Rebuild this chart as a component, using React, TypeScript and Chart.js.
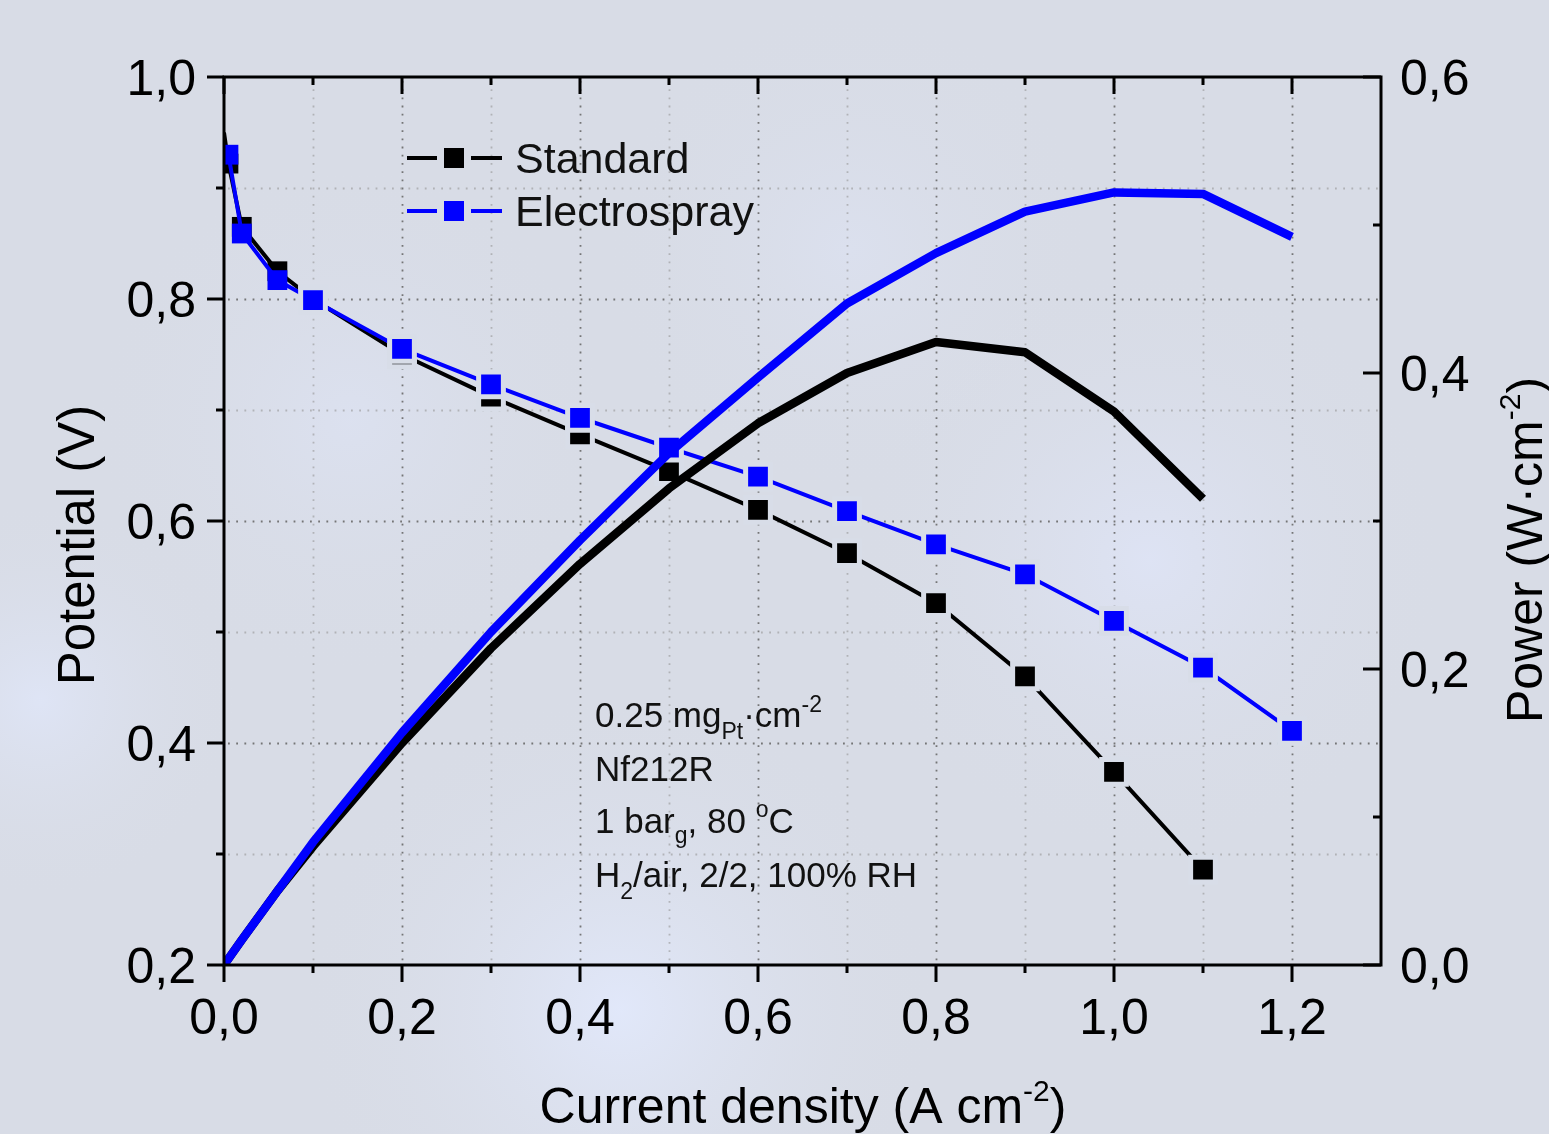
import React, { useEffect, useRef } from 'react';
import { Chart, registerables } from 'chart.js';

Chart.register(...registerables);

// ---------- data ----------
const currentStdV = [0, 0.005, 0.02, 0.06, 0.1, 0.2, 0.3, 0.4, 0.5, 0.6, 0.7, 0.8, 0.9, 1.0, 1.1];
const potentialStd = [0.95, 0.922, 0.865, 0.825, 0.8, 0.75, 0.712, 0.678, 0.645, 0.61, 0.571, 0.526, 0.46, 0.374, 0.286];

const currentEsV = [0.005, 0.02, 0.06, 0.1, 0.2, 0.3, 0.4, 0.5, 0.6, 0.7, 0.8, 0.9, 1.0, 1.1, 1.2];
const potentialEs = [0.93, 0.859, 0.817, 0.799, 0.755, 0.723, 0.693, 0.666, 0.64, 0.609, 0.579, 0.552, 0.51, 0.468, 0.411];

const currentStdP = [0, 0.02, 0.06, 0.1, 0.2, 0.3, 0.4, 0.5, 0.6, 0.7, 0.8, 0.9, 1.0, 1.1];
const powerStd = [0, 0.017, 0.05, 0.08, 0.15, 0.214, 0.271, 0.322, 0.366, 0.4, 0.421, 0.414, 0.374, 0.315];

const currentEsP = [0, 0.02, 0.06, 0.1, 0.2, 0.3, 0.4, 0.5, 0.6, 0.7, 0.8, 0.9, 1.0, 1.1, 1.2];
const powerEs = [0, 0.017, 0.05, 0.083, 0.157, 0.225, 0.287, 0.346, 0.397, 0.447, 0.481, 0.509, 0.522, 0.521, 0.492];

const xMajorTicks = [0, 0.2, 0.4, 0.6, 0.8, 1.0, 1.2];
const xTickLabels = ['0,0', '0,2', '0,4', '0,6', '0,8', '1,0', '1,2'];
const xMinorTicks = [0.1, 0.3, 0.5, 0.7, 0.9, 1.1];

const yMajorTicks = [0.2, 0.4, 0.6, 0.8, 1.0];
const yTickLabels = ['0,2', '0,4', '0,6', '0,8', '1,0'];
const yMinorTicks = [0.3, 0.5, 0.7, 0.9];

const y1MajorTicks = [0, 0.2, 0.4, 0.6];
const y1TickLabels = ['0,0', '0,2', '0,4', '0,6'];
const y1MinorTicks = [0.1, 0.3, 0.5];

const seriesNames = ['Standard', 'Electrospray'];
const seriesColors = ['#000000', '#0000ff'];

const FONT = '"Liberation Sans", Arial, Helvetica, sans-serif';
const BG = '#d8dce6';
const HALO = 'rgba(216,221,232,1)';

type Seg = { t: string; size: number; dy: number };

function drawRich(ctx: CanvasRenderingContext2D, segs: Seg[], x: number, y: number) {
  let cx = x;
  for (const s of segs) {
    ctx.font = `${s.size}px ${FONT}`;
    ctx.fillText(s.t, cx, y + s.dy);
    cx += ctx.measureText(s.t).width;
  }
  return cx - x;
}

function richWidth(ctx: CanvasRenderingContext2D, segs: Seg[]) {
  let w = 0;
  for (const s of segs) {
    ctx.font = `${s.size}px ${FONT}`;
    w += ctx.measureText(s.t).width;
  }
  return w;
}

const framePlugin = {
  id: 'framePlugin',
  beforeDraw(chart: any) {
    const { ctx, width, height } = chart;
    ctx.save();
    ctx.fillStyle = BG;
    ctx.fillRect(0, 0, width, height);
    const blobs: [number, number, number, string][] = [
      [620, 1010, 320, 'rgba(226,233,252,0.9)'],
      [1150, 560, 300, 'rgba(224,230,250,0.7)'],
      [350, 420, 260, 'rgba(222,228,246,0.6)'],
      [40, 700, 200, 'rgba(225,232,252,0.7)'],
      [850, 250, 250, 'rgba(222,228,246,0.5)'],
    ];
    for (const [bx, by, r, c] of blobs) {
      const g = ctx.createRadialGradient(bx, by, 0, bx, by, r);
      g.addColorStop(0, c);
      g.addColorStop(1, 'rgba(216,220,230,0)');
      ctx.fillStyle = g;
      ctx.fillRect(bx - r, by - r, 2 * r, 2 * r);
    }
    ctx.restore();
  },
  beforeDatasetsDraw(chart: any) {
    const { ctx, chartArea: a, scales } = chart;
    const xs = scales.x;
    const ys = scales.y;
    ctx.save();
    ctx.lineWidth = 1.8;
    ctx.setLineDash([1.8, 6.4]);
    const vline = (v: number, col: string) => {
      const px = Math.round(xs.getPixelForValue(v)) + 0.5;
      ctx.strokeStyle = col;
      ctx.beginPath();
      ctx.moveTo(px, a.top + 4);
      ctx.lineTo(px, a.bottom);
      ctx.stroke();
    };
    const hline = (v: number, col: string) => {
      const py = Math.round(ys.getPixelForValue(v)) + 0.5;
      ctx.strokeStyle = col;
      ctx.beginPath();
      ctx.moveTo(a.left + 4, py);
      ctx.lineTo(a.right, py);
      ctx.stroke();
    };
    xMinorTicks.forEach((v) => vline(v, 'rgba(150,150,150,0.6)'));
    xMajorTicks.filter((v) => v > 0).forEach((v) => vline(v, 'rgba(105,105,105,0.9)'));
    yMinorTicks.forEach((v) => hline(v, 'rgba(150,150,150,0.6)'));
    yMajorTicks.filter((v) => v > 0.2 && v < 1.0).forEach((v) => hline(v, 'rgba(105,105,105,0.9)'));
    ctx.restore();
  },
  afterDatasetsDraw(chart: any) {
    const { ctx, chartArea: a, scales } = chart;
    const xs = scales.x;
    const ys = scales.y;
    const y1 = scales.y1;
    ctx.save();
    ctx.strokeStyle = '#000';
    ctx.fillStyle = '#000';
    ctx.lineWidth = 3;
    ctx.lineCap = 'butt';
    ctx.setLineDash([]);
    // frame
    ctx.beginPath();
    ctx.moveTo(a.left, a.top);
    ctx.lineTo(a.right, a.top);
    ctx.lineTo(a.right, a.bottom);
    ctx.lineTo(a.left, a.bottom);
    ctx.closePath();
    ctx.stroke();

    const major = 17;
    const minor = 8;
    // x ticks: bottom outward, top inward
    const xt = (v: number, len: number) => {
      const px = xs.getPixelForValue(v);
      ctx.beginPath();
      ctx.moveTo(px, a.bottom);
      ctx.lineTo(px, a.bottom + len);
      ctx.moveTo(px, a.top);
      ctx.lineTo(px, a.top + len);
      ctx.stroke();
    };
    xMajorTicks.forEach((v) => xt(v, major));
    xMinorTicks.forEach((v) => xt(v, minor));
    // left ticks outward
    const ylt = (v: number, len: number) => {
      const py = ys.getPixelForValue(v);
      ctx.beginPath();
      ctx.moveTo(a.left, py);
      ctx.lineTo(a.left - len, py);
      ctx.stroke();
    };
    yMajorTicks.forEach((v) => ylt(v, major));
    yMinorTicks.forEach((v) => ylt(v, minor));
    // right ticks inward
    const yrt = (v: number, len: number) => {
      const py = y1.getPixelForValue(v);
      ctx.beginPath();
      ctx.moveTo(a.right, py);
      ctx.lineTo(a.right - len, py);
      ctx.stroke();
    };
    y1MajorTicks.forEach((v) => yrt(v, major + 1));
    y1MinorTicks.forEach((v) => yrt(v, minor));

    // tick labels
    ctx.font = `50px ${FONT}`;
    ctx.textBaseline = 'alphabetic';
    ctx.textAlign = 'center';
    xMajorTicks.forEach((v, i) => {
      ctx.fillText(xTickLabels[i], xs.getPixelForValue(v), a.bottom + 69);
    });
    ctx.textAlign = 'right';
    yMajorTicks.forEach((v, i) => {
      ctx.fillText(yTickLabels[i], a.left - 28, ys.getPixelForValue(v) + 18);
    });
    ctx.textAlign = 'left';
    y1MajorTicks.forEach((v, i) => {
      ctx.fillText(y1TickLabels[i], a.right + 19, y1.getPixelForValue(v) + 18);
    });

    // axis titles
    ctx.textAlign = 'left';
    const xTitle: Seg[] = [
      { t: 'Current density (A cm', size: 50, dy: 0 },
      { t: '-2', size: 30, dy: -22 },
      { t: ')', size: 50, dy: 0 },
    ];
    const xw = richWidth(ctx, xTitle);
    drawRich(ctx, xTitle, 803 - xw / 2, 1123);

    const leftTitle: Seg[] = [{ t: 'Potential (V)', size: 51, dy: 0 }];
    ctx.save();
    ctx.translate(94, 545);
    ctx.rotate(-Math.PI / 2);
    const lw = richWidth(ctx, leftTitle);
    drawRich(ctx, leftTitle, -lw / 2, 0);
    ctx.restore();

    const rightTitle: Seg[] = [
      { t: 'Power (W\u00B7cm', size: 50, dy: 0 },
      { t: '-2', size: 30, dy: -22 },
      { t: ')', size: 50, dy: 0 },
    ];
    ctx.save();
    ctx.translate(1542, 550);
    ctx.rotate(-Math.PI / 2);
    const rw = richWidth(ctx, rightTitle);
    drawRich(ctx, rightTitle, -rw / 2, 0);
    ctx.restore();

    // legend
    const legY = [158, 211];
    seriesNames.forEach((name, i) => {
      const yy = legY[i];
      ctx.strokeStyle = seriesColors[i];
      ctx.fillStyle = seriesColors[i];
      ctx.lineWidth = 4;
      ctx.beginPath();
      ctx.moveTo(407, yy);
      ctx.lineTo(437, yy);
      ctx.moveTo(471, yy);
      ctx.lineTo(502, yy);
      ctx.stroke();
      ctx.fillRect(444, yy - 10, 20, 20);
      ctx.fillStyle = '#111';
      ctx.font = `43px ${FONT}`;
      ctx.textAlign = 'left';
      ctx.fillText(name, 515, yy + 15);
    });

    // annotation
    ctx.fillStyle = '#111';
    const ax = 595;
    drawRich(ctx, [
      { t: '0.25 mg', size: 35, dy: 0 },
      { t: 'Pt', size: 23, dy: 12 },
      { t: '\u00B7cm', size: 35, dy: 0 },
      { t: '-2', size: 23, dy: -15 },
    ], ax, 727);
    drawRich(ctx, [{ t: 'Nf212R', size: 35, dy: 0 }], ax, 781);
    drawRich(ctx, [
      { t: '1 bar', size: 35, dy: 0 },
      { t: 'g', size: 23, dy: 10 },
      { t: ', 80 ', size: 35, dy: 0 },
      { t: 'o', size: 23, dy: -16 },
      { t: 'C', size: 35, dy: 0 },
    ], ax, 833);
    drawRich(ctx, [
      { t: 'H', size: 35, dy: 0 },
      { t: '2', size: 23, dy: 12 },
      { t: '/air, 2/2, 100% RH', size: 35, dy: 0 },
    ], ax, 887);

    ctx.restore();
  },
};

function pts(xs: number[], ys: number[]) {
  return xs.map((x, i) => ({ x, y: ys[i] }));
}

// marker: filled square ~20px; points after the crowded start get a halo that
// leaves a small gap in the connecting line, as in the original plot
const HALO_W = 5;
const R_PLAIN = 14;
const R_HALO = 17.5;

export default function App() {
  const ref = useRef<HTMLCanvasElement | null>(null);

  useEffect(() => {
    document.body.style.margin = '0';
    const canvas = ref.current;
    if (!canvas) return;
    const stdHalo = (i: number) => i >= 4;
    const esHalo = (i: number) => i >= 3;
    const chart = new Chart(canvas, {
      type: 'line',
      data: {
        datasets: [
          {
            label: 'Standard power',
            data: pts(currentStdP, powerStd),
            yAxisID: 'y1',
            borderColor: seriesColors[0],
            borderWidth: 8.5,
            pointRadius: 0,
            tension: 0,
            order: 1,
            borderJoinStyle: 'round',
            borderCapStyle: 'butt',
          },
          {
            label: 'Electrospray power',
            data: pts(currentEsP, powerEs),
            yAxisID: 'y1',
            borderColor: seriesColors[1],
            borderWidth: 8.5,
            pointRadius: 0,
            tension: 0,
            order: 0,
            borderJoinStyle: 'round',
            borderCapStyle: 'butt',
          },
          {
            label: seriesNames[0],
            data: pts(currentStdV, potentialStd),
            yAxisID: 'y',
            borderColor: seriesColors[0],
            backgroundColor: seriesColors[0],
            borderWidth: 4,
            pointStyle: 'rect',
            pointRadius: (c: any) => (c.dataIndex === 0 ? 0 : stdHalo(c.dataIndex) ? R_HALO : R_PLAIN),
            pointBorderWidth: (c: any) => (stdHalo(c.dataIndex) ? HALO_W : 0),
            pointBorderColor: HALO,
            pointBackgroundColor: seriesColors[0],
            tension: 0,
            order: 3,
          },
          {
            label: seriesNames[1],
            data: pts(currentEsV, potentialEs),
            yAxisID: 'y',
            borderColor: seriesColors[1],
            backgroundColor: seriesColors[1],
            borderWidth: 4,
            pointStyle: 'rect',
            pointRadius: (c: any) => (esHalo(c.dataIndex) ? R_HALO : R_PLAIN),
            pointBorderWidth: (c: any) => (esHalo(c.dataIndex) ? HALO_W : 0),
            pointBorderColor: HALO,
            pointBackgroundColor: seriesColors[1],
            tension: 0,
            order: 2,
          },
        ],
      },
      options: {
        responsive: false,
        animation: false,
        devicePixelRatio: 1,
        layout: { padding: { left: 224, right: 168, top: 77, bottom: 169 } },
        plugins: {
          legend: { display: false },
          tooltip: { enabled: false },
        },
        scales: {
          x: { type: 'linear', min: 0, max: 1.3, display: false },
          y: { type: 'linear', min: 0.2, max: 1.0, display: false },
          y1: { type: 'linear', min: 0, max: 0.6, display: false, position: 'right' },
        },
      },
      plugins: [framePlugin],
    });
    return () => chart.destroy();
  }, []);

  return <canvas ref={ref} width={1549} height={1134} style={{ display: 'block' }} />;
}
